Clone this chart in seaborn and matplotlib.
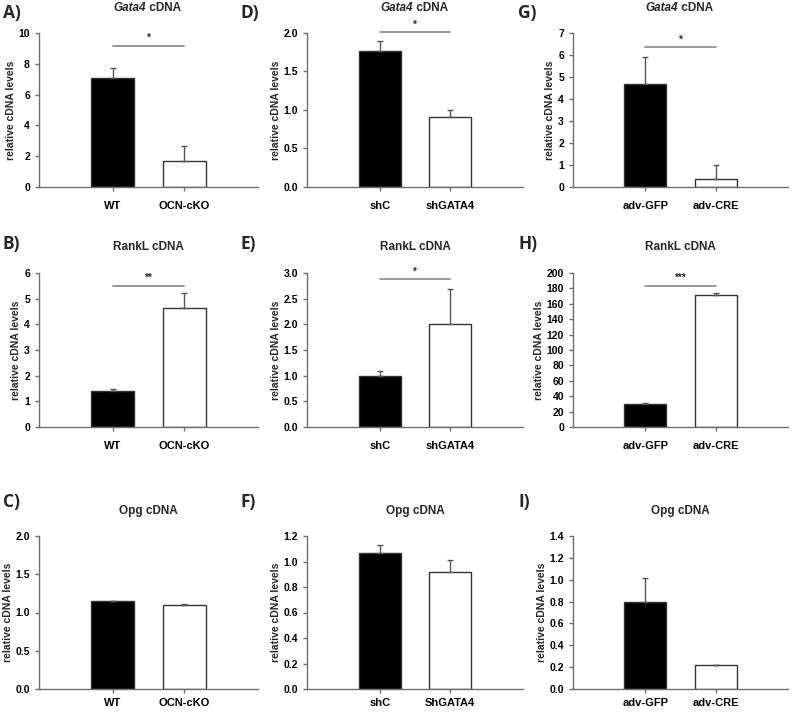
import numpy as np
import pandas as pd
import matplotlib
matplotlib.use('Agg')
import matplotlib.pyplot as plt
import seaborn as sns

sns.set_style('ticks')
plt.rcParams['font.family'] = ['Liberation Sans', 'DejaVu Sans']

# categorias
labels_ocn = ['WT', 'OCN-cKO']
labels_sh = ['shC', 'shGATA4']
labels_sh_opg = ['shC', 'ShGATA4']
labels_adv = ['adv-GFP', 'adv-CRE']

# valores medios e erro (so para cima)
vals_A = [7.1, 1.7]
err_A = [0.6, 0.95]
vals_D = [1.76, 0.91]
err_D = [0.13, 0.09]
vals_G = [4.7, 0.35]
err_G = [1.2, 0.67]

vals_B = [1.42, 4.62]
err_B = [0.08, 0.6]
vals_E = [1.0, 2.0]
err_E = [0.09, 0.69]
vals_H = [30, 171]
err_H = [1.0, 3.0]

vals_C = [1.15, 1.10]
err_C = [0.005, 0.005]
vals_F = [1.065, 0.92]
err_F = [0.065, 0.095]
vals_I = [0.80, 0.22]
err_I = [0.22, 0.0]

# eixo y: (max, passo, formato)
ylim_A = (10, 2, '{:.0f}')
ylim_D = (2.0, 0.5, '{:.1f}')
ylim_G = (7, 1, '{:.0f}')
ylim_B = (6, 1, '{:.0f}')
ylim_E = (3.0, 0.5, '{:.1f}')
ylim_H = (200, 20, '{:.0f}')
ylim_C = (2.0, 0.5, '{:.1f}')
ylim_F = (1.2, 0.2, '{:.1f}')
ylim_I = (1.4, 0.2, '{:.1f}')

# significancia: (altura da linha, estrelas)
sig_A = (9.18, '*')
sig_D = (2.01, '*')
sig_G = (6.35, '*')
sig_B = (5.5, '**')
sig_E = (2.88, '*')
sig_H = (183.5, '***')

W, H = 800, 712
fig = plt.figure(figsize=(W / 100, H / 100), dpi=100)

col_x = [(39, 258), (307, 523), (573, 788)]
row_y = [(33, 187), (273, 427), (536, 689)]
letter_x = [3, 240, 518]
letter_y = [13, 244, 502]
title_y = [8, 247, 511]
xpad = [7, 7, 3.5]

paineis = [
    ('A)', 'Gata4', labels_ocn, vals_A, err_A, ylim_A, sig_A),
    ('D)', 'Gata4', labels_sh, vals_D, err_D, ylim_D, sig_D),
    ('G)', 'Gata4', labels_adv, vals_G, err_G, ylim_G, sig_G),
    ('B)', 'RankL', labels_ocn, vals_B, err_B, ylim_B, sig_B),
    ('E)', 'RankL', labels_sh, vals_E, err_E, ylim_E, sig_E),
    ('H)', 'RankL', labels_adv, vals_H, err_H, ylim_H, sig_H),
    ('C)', 'Opg', labels_ocn, vals_C, err_C, ylim_C, None),
    ('F)', 'Opg', labels_sh_opg, vals_F, err_F, ylim_F, None),
    ('I)', 'Opg', labels_adv, vals_I, err_I, ylim_I, None),
]

spine_c = '#6e6e6e'

for i, (letra, gene, labels, vals, errs, ylim, sig) in enumerate(paineis):
    r, c = divmod(i, 3)
    x0, x1 = col_x[c]
    y0, y1 = row_y[r]
    ax = fig.add_axes([x0 / W, 1 - y1 / H, (x1 - x0) / W, (y1 - y0) / H])

    df = pd.DataFrame({'grupo': labels, 'valor': vals})
    sns.barplot(data=df, x='grupo', y='valor', hue='grupo', palette=['black', 'white'],
                width=0.6, edgecolor='#333333', linewidth=1, legend=False, ax=ax)
    ax.errorbar(np.arange(len(vals)), vals, yerr=[np.zeros(len(errs)), errs], fmt='none',
                ecolor='#555555', elinewidth=1, capsize=2.5, capthick=1)

    ymax, step, fmt = ylim
    ticks = np.arange(0, ymax + step / 2, step)
    ax.set_ylim(0, ymax)
    ax.set_yticks(ticks)
    ax.set_yticklabels([fmt.format(t) for t in ticks])
    ax.set_xlim(-1.03, 2.03)

    sns.despine(ax=ax)
    for s in ['left', 'bottom']:
        ax.spines[s].set_color(spine_c)
        ax.spines[s].set_linewidth(1)
    ax.tick_params(axis='both', colors=spine_c, length=3, width=1, labelcolor='black', labelsize=7.5)
    ax.tick_params(axis='x', labelsize=8, pad=xpad[r])
    for t in ax.get_xticklabels() + ax.get_yticklabels():
        t.set_fontweight('bold')
    ax.set_xlabel('')
    ax.set_ylabel('relative cDNA levels', fontsize=7.5, fontweight='bold', labelpad=2)

    if sig is not None:
        ys, estrelas = sig
        ax.plot([0, 1], [ys, ys], color='#9a9a9a', lw=1.4, clip_on=False)
        ax.annotate(estrelas, (0.5, ys), xytext=(0, 2), textcoords='offset points',
                    ha='center', va='bottom', fontsize=7, fontweight='bold', annotation_clip=False)

    # titulo do painel
    xc = (x0 + x1) / 2 / W
    yt = 1 - title_y[r] / H
    if gene == 'Gata4':
        fig.text(xc - 0.003, yt, 'Gata4', ha='right', va='center', fontsize=8.5,
                 fontweight='bold', fontstyle='italic')
        fig.text(xc - 0.003, yt, ' cDNA', ha='left', va='center', fontsize=8.5, fontweight='bold')
    else:
        fig.text(xc, yt, gene + ' cDNA', ha='center', va='center', fontsize=8.5, fontweight='bold')

    fig.text(letter_x[c] / W, 1 - letter_y[r] / H, letra, ha='left', va='center',
             fontsize=12.5, fontweight='bold', family=['Open Sans', 'DejaVu Sans'])

fig.savefig('out.png', dpi=100)
